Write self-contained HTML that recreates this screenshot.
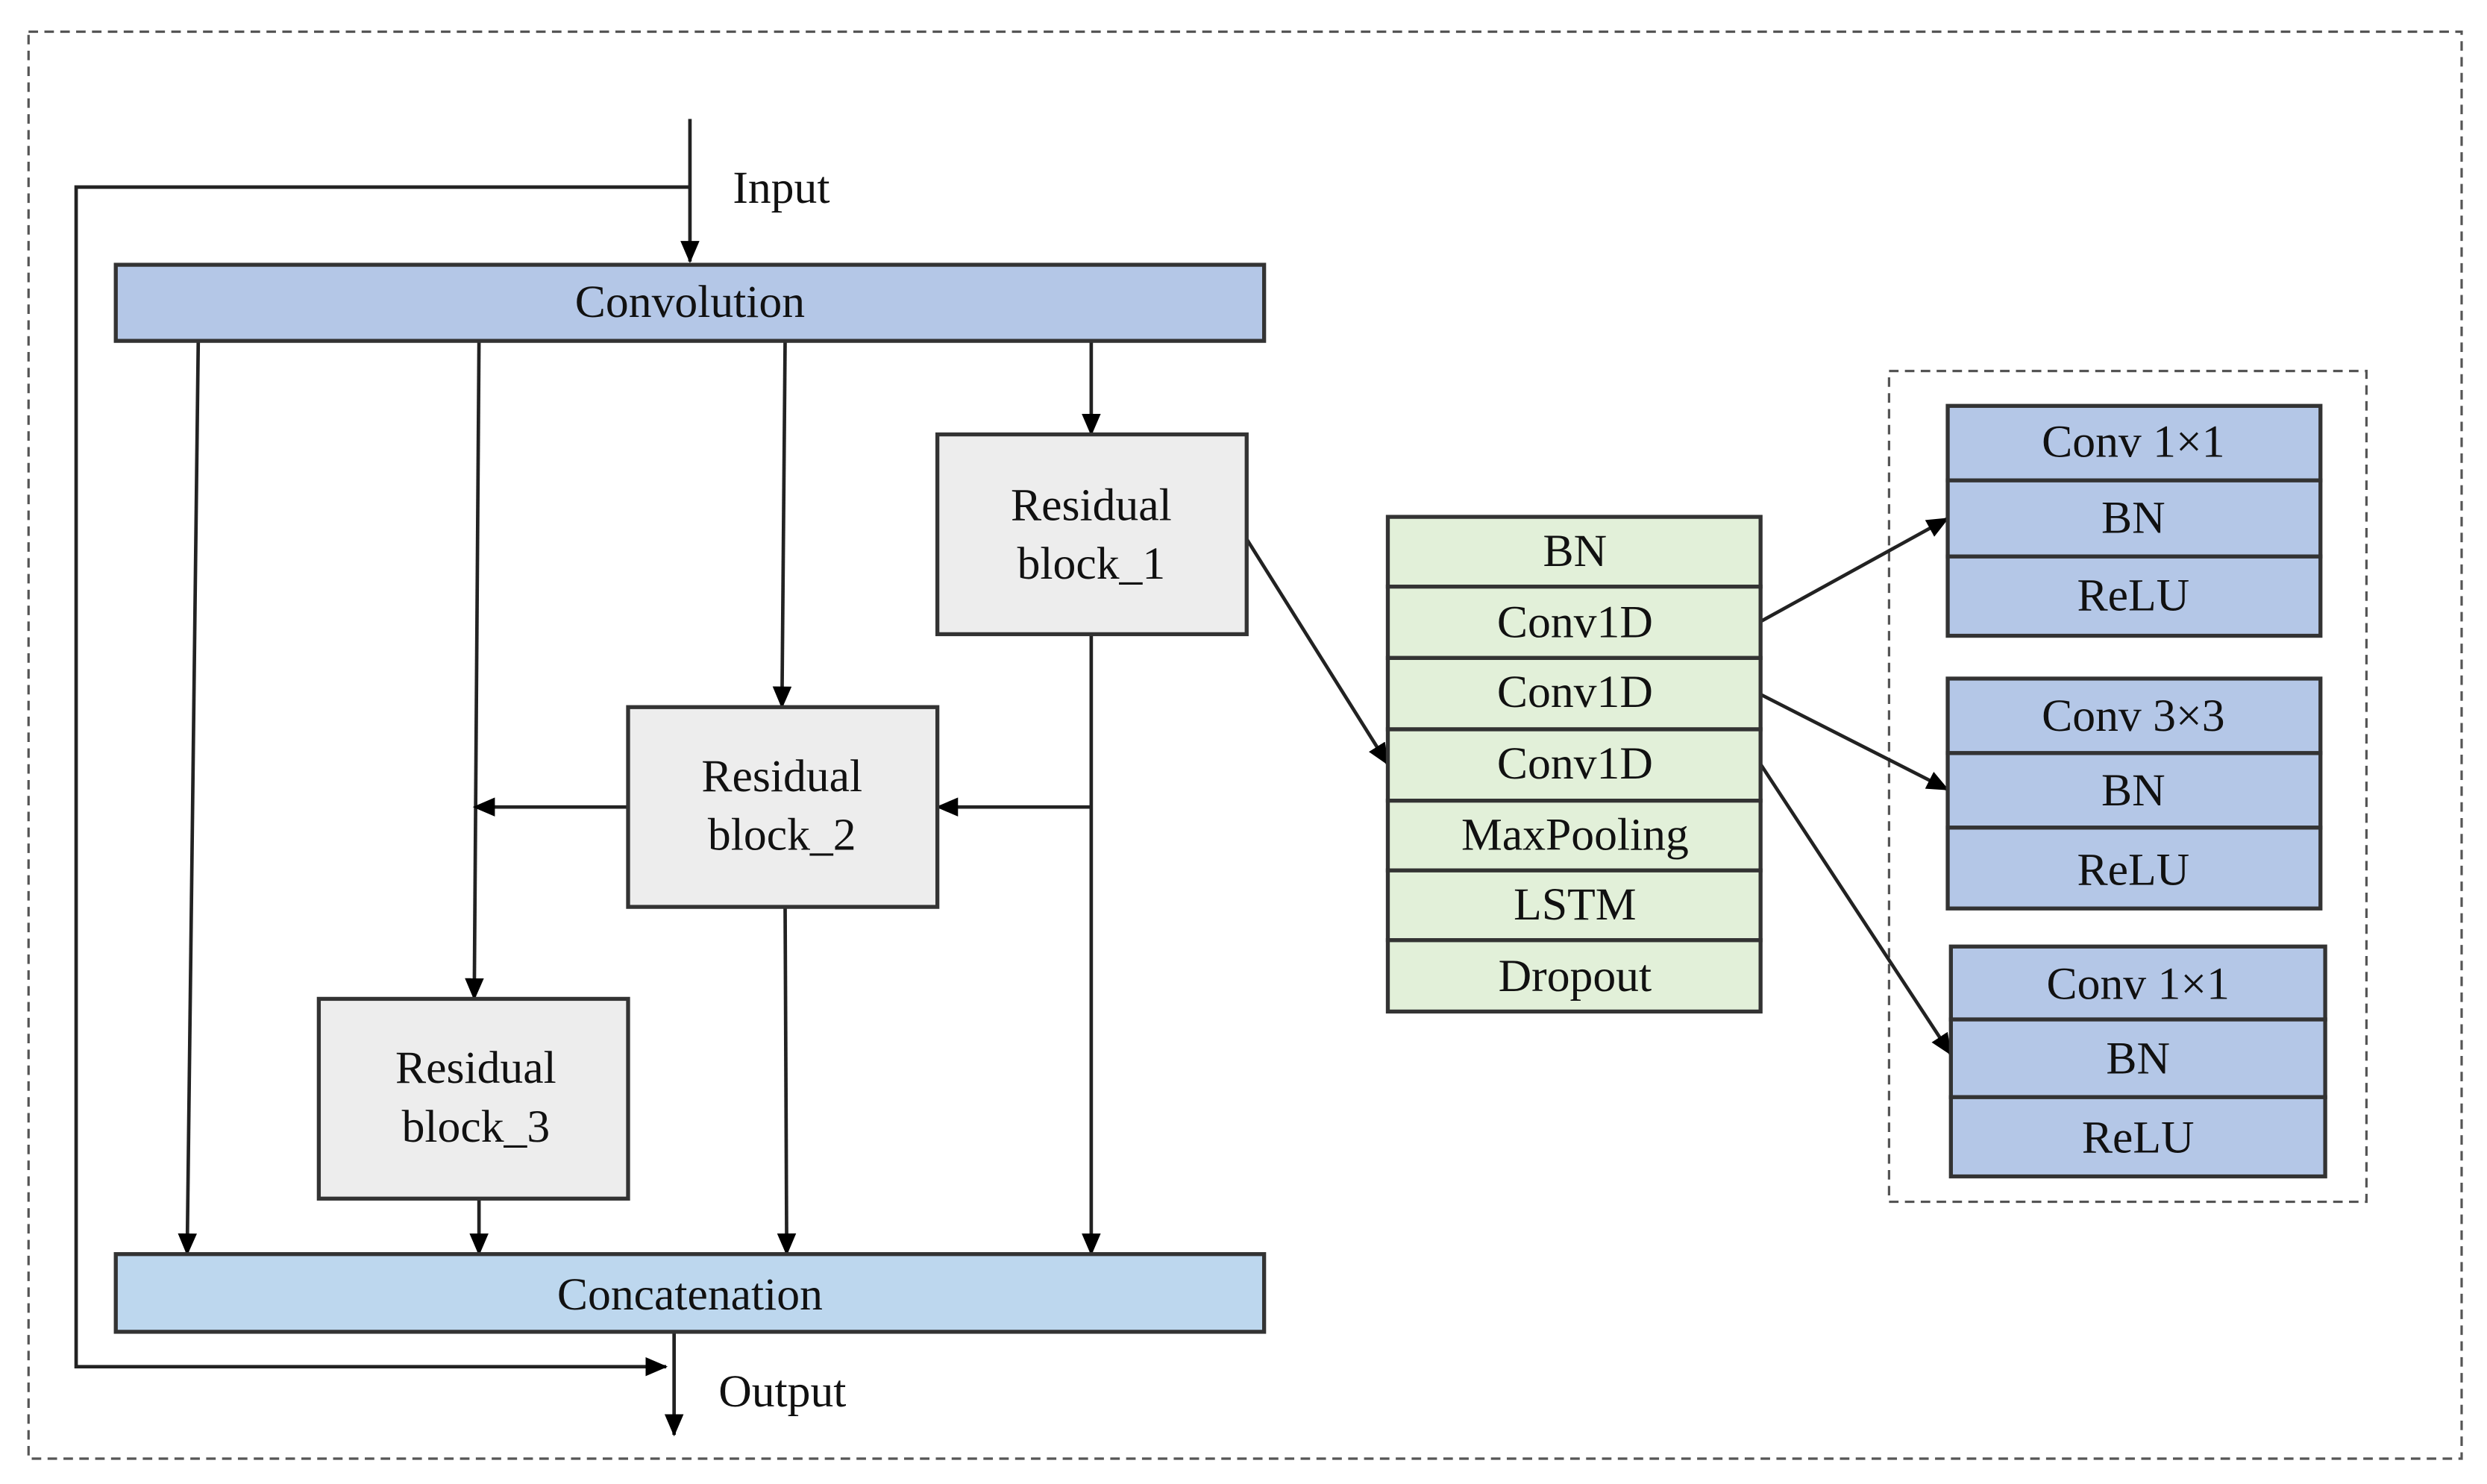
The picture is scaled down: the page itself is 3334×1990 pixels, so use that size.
<!DOCTYPE html>
<html><head><style>html,body{margin:0;padding:0;background:#fff}svg{display:block}</style></head>
<body>
<svg width="3334" height="1990" viewBox="0 0 1568 936" preserveAspectRatio="none" xmlns="http://www.w3.org/2000/svg" font-family="Liberation Serif, serif" font-size="29">
<defs><marker id="a" markerWidth="8" markerHeight="8" refX="7" refY="4" orient="auto" markerUnits="userSpaceOnUse"><path d="M0,0 L8,4 L0,8 z" fill="#000"/></marker>
<marker id="b" markerWidth="14" markerHeight="12" refX="13" refY="6" orient="auto" markerUnits="userSpaceOnUse"><path d="M0,0 L14,6 L0,12 z" fill="#000"/></marker></defs>
<rect x="18" y="20" width="1534" height="900" fill="none" stroke="#555" stroke-width="1.5" stroke-dasharray="6,4"/>
<rect x="1191" y="234" width="301" height="524" fill="none" stroke="#555" stroke-width="1.5" stroke-dasharray="6,4"/>
<g stroke="#222" stroke-width="2.2" fill="none">
<line x1="435" y1="75" x2="435" y2="165" marker-end="url(#b)"/>
<polyline points="435,118 48,118 48,862 420,862" marker-end="url(#b)"/>
<line x1="425" y1="840" x2="425" y2="905" marker-end="url(#b)"/>
<line x1="125" y1="215" x2="118" y2="791" marker-end="url(#b)"/>
<line x1="302" y1="215" x2="299" y2="630" marker-end="url(#b)"/>
<line x1="495" y1="215" x2="493" y2="446" marker-end="url(#b)"/>
<line x1="688" y1="215" x2="688" y2="274" marker-end="url(#b)"/>
<line x1="688" y1="400" x2="688" y2="791" marker-end="url(#b)"/>
<line x1="688" y1="509" x2="591" y2="509" marker-end="url(#b)"/>
<line x1="396" y1="509" x2="299" y2="509" marker-end="url(#b)"/>
<line x1="495" y1="572" x2="496" y2="791" marker-end="url(#b)"/>
<line x1="302" y1="756" x2="302" y2="791" marker-end="url(#b)"/>
<line x1="786" y1="340" x2="875" y2="482" marker-end="url(#b)"/>
<line x1="1110" y1="392" x2="1228" y2="327" marker-end="url(#b)"/>
<line x1="1110" y1="438" x2="1228" y2="498" marker-end="url(#b)"/>
<line x1="1110" y1="482" x2="1230" y2="665" marker-end="url(#b)"/>
</g>
<g stroke="#333" stroke-width="2.5">
<rect x="73" y="167" width="724" height="48" fill="#b4c7e7"/>
<rect x="73" y="791" width="724" height="49" fill="#bdd7ee"/>
<rect x="591" y="274" width="195" height="126" fill="#ededed"/>
<rect x="396" y="446" width="195" height="126" fill="#ededed"/>
<rect x="201" y="630" width="195" height="126" fill="#ededed"/>
<g fill="#e2f0d9">
<rect x="875" y="326" width="235" height="44"/><rect x="875" y="370" width="235" height="45"/><rect x="875" y="415" width="235" height="45"/><rect x="875" y="460" width="235" height="45"/><rect x="875" y="505" width="235" height="44"/><rect x="875" y="549" width="235" height="44"/><rect x="875" y="593" width="235" height="45"/>
</g>
<g fill="#b4c7e7">
<rect x="1228" y="256" width="235" height="47"/><rect x="1228" y="303" width="235" height="48"/><rect x="1228" y="351" width="235" height="50"/>
<rect x="1228" y="428" width="235" height="47"/><rect x="1228" y="475" width="235" height="47"/><rect x="1228" y="522" width="235" height="51"/>
<rect x="1230" y="597" width="236" height="46"/><rect x="1230" y="643" width="236" height="49"/><rect x="1230" y="692" width="236" height="50"/>
</g>
</g>
<g text-anchor="middle" fill="#111">
<text x="435" y="200">Convolution</text>
<text x="435" y="826">Concatenation</text>
<text x="688" y="328">Residual</text><text x="688" y="365">block_1</text>
<text x="493" y="499">Residual</text><text x="493" y="536">block_2</text>
<text x="300" y="683">Residual</text><text x="300" y="720">block_3</text>
<text x="993" y="357">BN</text><text x="993" y="402">Conv1D</text><text x="993" y="446">Conv1D</text><text x="993" y="491">Conv1D</text><text x="993" y="536">MaxPooling</text><text x="993" y="580">LSTM</text><text x="993" y="625">Dropout</text>
<text x="1345" y="288">Conv 1×1</text><text x="1345" y="336">BN</text><text x="1345" y="385">ReLU</text>
<text x="1345" y="461">Conv 3×3</text><text x="1345" y="508">BN</text><text x="1345" y="558">ReLU</text>
<text x="1348" y="630">Conv 1×1</text><text x="1348" y="677">BN</text><text x="1348" y="727">ReLU</text>
</g>
<text x="462" y="128" fill="#111">Input</text>
<text x="453" y="887" fill="#111">Output</text>
</svg>
</body></html>
